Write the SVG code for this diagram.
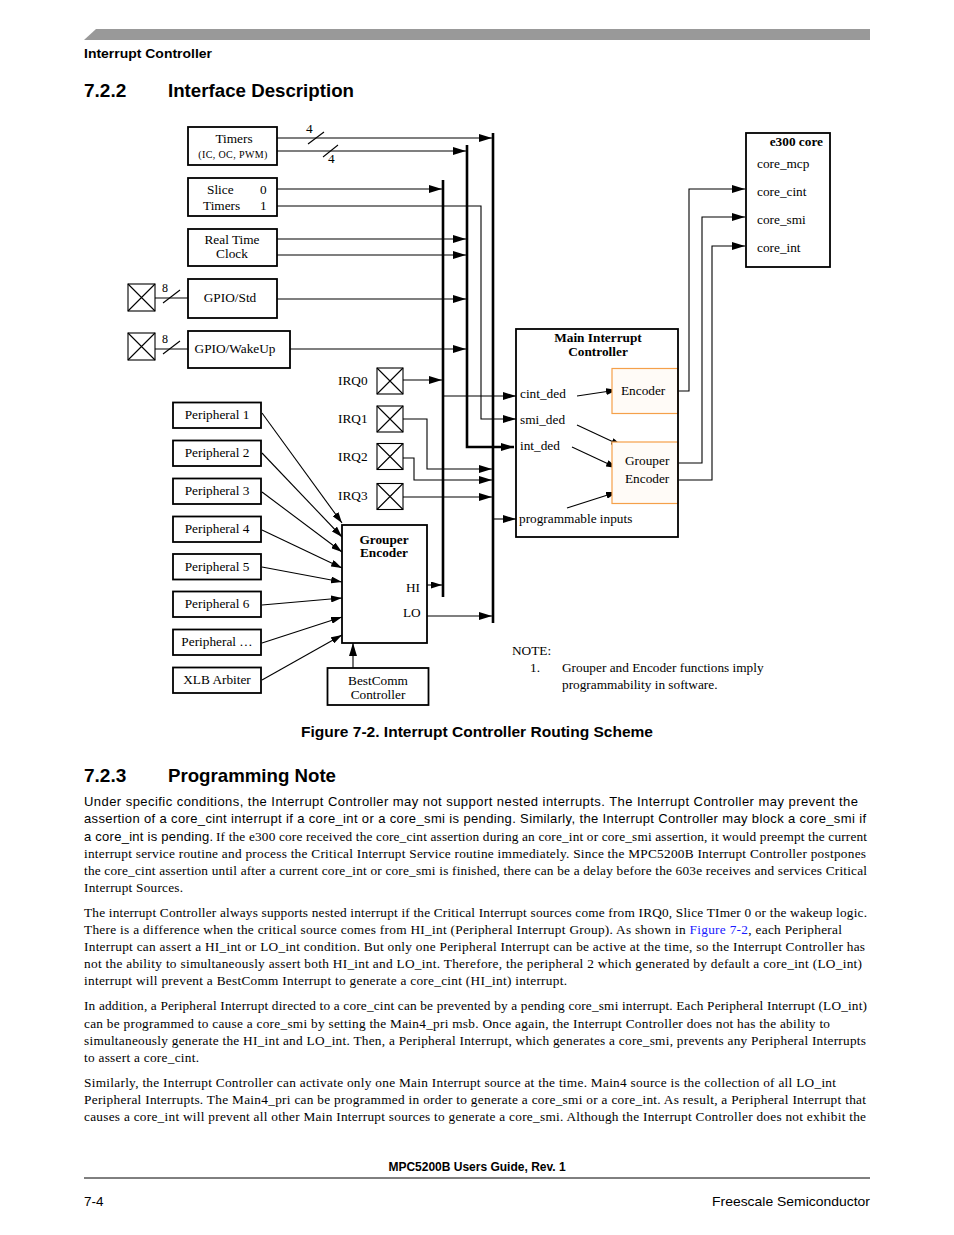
<svg xmlns="http://www.w3.org/2000/svg" width="954" height="1235" viewBox="0 0 954 1235">
<style>
.d{font-family:"Liberation Serif","Times New Roman",serif;font-size:13.3px;fill:#000}
.sm{font-size:10px;letter-spacing:0.4px}
.n8{font-size:12px}
.db{font-family:"Liberation Serif","Times New Roman",serif;font-size:13.3px;font-weight:bold;fill:#000}
.s{font-family:"Liberation Sans",Arial,sans-serif;fill:#000}
.t{font-family:"Liberation Serif","Times New Roman",serif;font-size:13.3px;fill:#000}
.a{font-family:"Liberation Sans",Arial,sans-serif;font-size:13px;fill:#000}
.box{fill:#fff;stroke:#000;stroke-width:1.8}
.obox{fill:#fffbf7;stroke:#f5a04a;stroke-width:1.2}
.ln{fill:none;stroke:#000;stroke-width:1.1}
.bus{fill:none;stroke:#000;stroke-width:2.6}
.x{fill:#fff;stroke:#000;stroke-width:1.1}
</style>
<defs>
<marker id="ah" markerUnits="userSpaceOnUse" markerWidth="13" markerHeight="8" refX="13" refY="4" orient="auto"><path d="M0,0 L13,4 L0,8 z" fill="#000"/></marker>
<marker id="as" markerUnits="userSpaceOnUse" markerWidth="11" markerHeight="7" refX="11" refY="3.5" orient="auto"><path d="M0,0 L11,3.5 L0,7 z" fill="#000"/></marker>
</defs>

<g id="header">
<path d="M84,40 L96,29 L870,29 L870,40 z" fill="#999"/>
<text class="s" x="84" y="58" font-size="13.5" font-weight="bold" textLength="128" lengthAdjust="spacingAndGlyphs">Interrupt Controller</text>
<text class="s" x="84" y="97" font-size="19" font-weight="bold">7.2.2</text>
<text class="s" x="168" y="97" font-size="19" font-weight="bold" textLength="186" lengthAdjust="spacingAndGlyphs">Interface Description</text>
</g>

<g id="connectors">
<path class="bus" d="M443,180 V597"/>
<path class="bus" d="M467,145 V447 H514" marker-end="url(#ah)"/>
<path class="bus" d="M493,133 V623"/>
<path class="ln" d="M277,138 H492" marker-end="url(#ah)"/>
<path class="ln" d="M277,151 H466" marker-end="url(#ah)"/>
<path class="ln" d="M308,144 L324,132"/>
<path class="ln" d="M323,157 L338,145"/>
<path class="ln" d="M277,189 H442" marker-end="url(#ah)"/>
<path class="ln" d="M277,206 H481 V419 H516" marker-end="url(#ah)"/>
<path class="ln" d="M277,239 H466" marker-end="url(#ah)"/>
<path class="ln" d="M277,255 H466" marker-end="url(#ah)"/>
<path class="ln" d="M155,298 H188"/>
<path class="ln" d="M163,303 L180,290"/>
<path class="ln" d="M277,299 H466" marker-end="url(#ah)"/>
<path class="ln" d="M155,349 H188"/>
<path class="ln" d="M163,354 L180,341"/>
<path class="ln" d="M290,349 H466" marker-end="url(#ah)"/>
<path class="ln" d="M403,380 H442" marker-end="url(#ah)"/>
<path class="ln" d="M403,419 H427 V469 H492" marker-end="url(#ah)"/>
<path class="ln" d="M403,458 H414 V480 H492" marker-end="url(#ah)"/>
<path class="ln" d="M403,497 H492" marker-end="url(#ah)"/>
<path class="ln" d="M443,396 H516" marker-end="url(#ah)"/>
<path class="ln" d="M493,519 H516" marker-end="url(#ah)"/>
<path class="ln" d="M577,396 L617,390" marker-end="url(#as)"/>
<path class="ln" d="M577,425 L622,446" marker-end="url(#as)"/>
<path class="ln" d="M572,447 L617,468" marker-end="url(#as)"/>
<path class="ln" d="M567,508 L617,492" marker-end="url(#as)"/>
<path class="ln" d="M678,391 H689 V189 H745" marker-end="url(#ah)"/>
<path class="ln" d="M678,463 H702 V217 H745" marker-end="url(#ah)"/>
<path class="ln" d="M678,480 H712 V246 H745" marker-end="url(#ah)"/>
<path class="ln" d="M262,413 L342,523" marker-end="url(#as)"/>
<path class="ln" d="M262,453 L342,537" marker-end="url(#as)"/>
<path class="ln" d="M262,492 L342,552" marker-end="url(#as)"/>
<path class="ln" d="M262,530 L342,568" marker-end="url(#as)"/>
<path class="ln" d="M262,567 L342,582" marker-end="url(#as)"/>
<path class="ln" d="M262,605 L342,598" marker-end="url(#as)"/>
<path class="ln" d="M262,643 L342,617" marker-end="url(#as)"/>
<path class="ln" d="M262,680 L342,635" marker-end="url(#as)"/>
<path class="ln" d="M353,643 V587 H398" stroke-dasharray="5,4" marker-end="url(#ah)"/>
<path class="ln" d="M353,668 V643" marker-end="url(#ah)"/>
<path class="ln" d="M427,585 H442" marker-end="url(#as)"/>
<path class="ln" d="M427,616 H492" marker-end="url(#ah)"/>
</g>

<g id="labels">
<text class="d" x="306" y="133">4</text>
<text class="d" x="328" y="163">4</text>
<text class="d n8" x="162" y="292">8</text>
<text class="d n8" x="162" y="343">8</text>
</g>

<g id="timers">
<rect class="box" x="188" y="127" width="89" height="38"/>
<text class="d" x="234" y="143" text-anchor="middle">Timers</text>
<text class="d sm" x="233" y="158" text-anchor="middle">(IC, OC, PWM)</text>
</g>
<g id="slice-timers">
<rect class="box" x="188" y="178" width="89" height="38"/>
<text class="d" x="207" y="194">Slice</text>
<text class="d" x="203" y="210">Timers</text>
<text class="d" x="260" y="194">0</text>
<text class="d" x="260" y="210">1</text>
</g>
<g id="rtc">
<rect class="box" x="188" y="229" width="89" height="37"/>
<text class="d" x="232" y="244" text-anchor="middle">Real Time</text>
<text class="d" x="232" y="258" text-anchor="middle">Clock</text>
</g>
<g id="gpio-std">
<rect class="box" x="188" y="279" width="89" height="39"/>
<text class="d" x="230" y="302" text-anchor="middle">GPIO/Std</text>
<rect class="x" x="128" y="284" width="27" height="27"/>
<path class="ln" d="M128,284 L155,311 M155,284 L128,311"/>
</g>
<g id="gpio-wakeup">
<rect class="box" x="188" y="331" width="102" height="37"/>
<text class="d" x="235" y="353" text-anchor="middle">GPIO/WakeUp</text>
<rect class="x" x="128" y="333" width="27" height="27"/>
<path class="ln" d="M128,333 L155,360 M155,333 L128,360"/>
</g>

<g id="irq0">
<text class="d" x="338" y="385">IRQ0</text>
<rect class="x" x="377" y="368" width="26" height="26"/>
<path class="ln" d="M377,368 L403,394 M403,368 L377,394"/>
</g>
<g id="irq1">
<text class="d" x="338" y="423">IRQ1</text>
<rect class="x" x="377" y="406" width="26" height="26"/>
<path class="ln" d="M377,406 L403,432 M403,406 L377,432"/>
</g>
<g id="irq2">
<text class="d" x="338" y="461">IRQ2</text>
<rect class="x" x="377" y="443.5" width="26" height="26"/>
<path class="ln" d="M377,443.5 L403,469.5 M403,443.5 L377,469.5"/>
</g>
<g id="irq3">
<text class="d" x="338" y="500">IRQ3</text>
<rect class="x" x="377" y="483.5" width="26" height="26"/>
<path class="ln" d="M377,483.5 L403,509.5 M403,483.5 L377,509.5"/>
</g>

<g id="peripherals">
<rect class="box" x="173" y="402.5" width="88" height="25.5"/>
<text class="d" x="217" y="419" text-anchor="middle">Peripheral 1</text>
<rect class="box" x="173" y="440.5" width="88" height="25.5"/>
<text class="d" x="217" y="457" text-anchor="middle">Peripheral 2</text>
<rect class="box" x="173" y="478.5" width="88" height="25.5"/>
<text class="d" x="217" y="495" text-anchor="middle">Peripheral 3</text>
<rect class="box" x="173" y="516.5" width="88" height="25.5"/>
<text class="d" x="217" y="533" text-anchor="middle">Peripheral 4</text>
<rect class="box" x="173" y="554" width="88" height="25.5"/>
<text class="d" x="217" y="570.5" text-anchor="middle">Peripheral 5</text>
<rect class="box" x="173" y="591.5" width="88" height="25.5"/>
<text class="d" x="217" y="608" text-anchor="middle">Peripheral 6</text>
<rect class="box" x="173" y="629.5" width="88" height="25.5"/>
<text class="d" x="217" y="646" text-anchor="middle">Peripheral …</text>
<rect class="box" x="173" y="667.5" width="88" height="25.5"/>
<text class="d" x="217" y="684" text-anchor="middle">XLB Arbiter</text>
</g>

<g id="grouper-encoder">
<rect class="box" x="342" y="525" width="85" height="118" fill="none"/>
<text class="db" x="384" y="544" text-anchor="middle">Grouper</text>
<text class="db" x="384" y="557" text-anchor="middle">Encoder</text>
<text class="d" x="406" y="592">HI</text>
<text class="d" x="403" y="617">LO</text>
</g>
<g id="bestcomm">
<rect class="box" x="327.5" y="668" width="101" height="37"/>
<text class="d" x="378" y="685" text-anchor="middle">BestComm</text>
<text class="d" x="378" y="699" text-anchor="middle">Controller</text>
</g>

<g id="main-interrupt-controller">
<rect class="obox" x="612" y="368.5" width="66" height="45"/>
<rect class="obox" x="612" y="442" width="66" height="61.5"/>
<rect x="516" y="329" width="162" height="208" fill="none" stroke="#000" stroke-width="1.8"/>
<text class="db" x="598" y="342" text-anchor="middle">Main Interrupt</text>
<text class="db" x="598" y="356" text-anchor="middle">Controller</text>
<text class="d" x="621" y="395">Encoder</text>
<text class="d" x="625" y="465">Grouper</text>
<text class="d" x="625" y="483">Encoder</text>
<text class="d" x="520" y="398">cint_ded</text>
<text class="d" x="520" y="424">smi_ded</text>
<text class="d" x="520" y="450">int_ded</text>
<text class="d" x="519" y="523">programmable inputs</text>
</g>

<g id="e300-core">
<rect class="box" x="746" y="133" width="84" height="134"/>
<text class="db" x="823" y="146" text-anchor="end">e300 core</text>
<text class="d" x="757" y="168">core_mcp</text>
<text class="d" x="757" y="196">core_cint</text>
<text class="d" x="757" y="224">core_smi</text>
<text class="d" x="757" y="252">core_int</text>
</g>

<g id="note">
<text class="d" x="512" y="655">NOTE:</text>
<text class="d" x="530" y="672">1.</text>
<text class="d" x="562" y="672">Grouper and Encoder functions imply</text>
<text class="d" x="562" y="689">programmability in software.</text>
</g>

<g id="caption">
<text class="s" x="301" y="737" font-size="14.5" font-weight="bold" textLength="352" lengthAdjust="spacingAndGlyphs">Figure 7-2. Interrupt Controller Routing Scheme</text>
<text class="s" x="84" y="782" font-size="19" font-weight="bold">7.2.3</text>
<text class="s" x="168" y="782" font-size="19" font-weight="bold" textLength="168" lengthAdjust="spacingAndGlyphs">Programming Note</text>
</g>

<g id="body">
<text class="a" x="84" y="806" textLength="774" lengthAdjust="spacing">Under specific conditions, the Interrupt Controller may not support nested interrupts. The Interrupt Controller may prevent the</text>
<text class="a" x="84" y="823" textLength="782" lengthAdjust="spacing">assertion of a core_cint interrupt if a core_int or a core_smi is pending. Similarly, the Interrupt Controller may block a core_smi if</text>
<text class="a" x="84" y="841" textLength="129" lengthAdjust="spacing">a core_int is pending.</text>
<text class="t" x="216" y="841" textLength="651" lengthAdjust="spacing">If the e300 core received the core_cint assertion during an core_int or core_smi assertion, it would preempt the current</text>
<text class="t" x="84" y="858" textLength="782" lengthAdjust="spacing">interrupt service routine and process the Critical Interrupt Service routine immediately. Since the MPC5200B Interrupt Controller postpones</text>
<text class="t" x="84" y="875" textLength="783" lengthAdjust="spacing">the core_cint assertion until after a current core_int or core_smi is finished, there can be a delay before the 603e receives and services Critical</text>
<text class="t" x="84" y="892" textLength="99" lengthAdjust="spacing">Interrupt Sources.</text>

<text class="t" x="84" y="917" textLength="783" lengthAdjust="spacing">The interrupt Controller always supports nested interrupt if the Critical Interrupt sources come from IRQ0, Slice TImer 0 or the wakeup logic.</text>
<text class="t" x="84" y="934" textLength="758" lengthAdjust="spacing">There is a difference when the critical source comes from HI_int (Peripheral Interrupt Group). As shown in <tspan fill="#1a1aff">Figure 7-2</tspan>, each Peripheral</text>
<text class="t" x="84" y="951" textLength="781" lengthAdjust="spacing">Interrupt can assert a HI_int or LO_int condition. But only one Peripheral Interrupt can be active at the time, so the Interrupt Controller has</text>
<text class="t" x="84" y="968" textLength="778" lengthAdjust="spacing">not the ability to simultaneously assert both HI_int and LO_int. Therefore, the peripheral 2 which generated by default a core_int (LO_int)</text>
<text class="t" x="84" y="985" textLength="483" lengthAdjust="spacing">interrupt will prevent a BestComm Interrupt to generate a core_cint (HI_int) interrupt.</text>

<text class="t" x="84" y="1010" textLength="783" lengthAdjust="spacing">In addition, a Peripheral Interrupt directed to a core_cint can be prevented by a pending core_smi interrupt. Each Peripheral Interrupt (LO_int)</text>
<text class="t" x="84" y="1028" textLength="746" lengthAdjust="spacing">can be programmed to cause a core_smi by setting the Main4_pri msb. Once again, the Interrupt Controller does not has the ability to</text>
<text class="t" x="84" y="1045" textLength="782" lengthAdjust="spacing">simultaneously generate the HI_int and LO_int. Then, a Peripheral Interrupt, which generates a core_smi, prevents any Peripheral Interrupts</text>
<text class="t" x="84" y="1062" textLength="115" lengthAdjust="spacing">to assert a core_cint.</text>

<text class="t" x="84" y="1087" textLength="752" lengthAdjust="spacing">Similarly, the Interrupt Controller can activate only one Main Interrupt source at the time. Main4 source is the collection of all LO_int</text>
<text class="t" x="84" y="1104" textLength="782" lengthAdjust="spacing">Peripheral Interrupts. The Main4_pri can be programmed in order to generate a core_smi or a core_int. As result, a Peripheral Interrupt that</text>
<text class="t" x="84" y="1121" textLength="782" lengthAdjust="spacing">causes a core_int will prevent all other Main Interrupt sources to generate a core_smi. Although the Interrupt Controller does not exhibit the</text>
</g>

<g id="footer">
<text class="s" x="477" y="1171" font-size="12" font-weight="bold" text-anchor="middle">MPC5200B Users Guide, Rev. 1</text>
<line x1="84" y1="1178" x2="870" y2="1178" stroke="#000" stroke-width="1"/>
<text class="s" x="84" y="1206" font-size="13.5">7-4</text>
<text class="s" x="870" y="1206" font-size="13.5" text-anchor="end" textLength="158" lengthAdjust="spacingAndGlyphs">Freescale Semiconductor</text>
</g>
</svg>
